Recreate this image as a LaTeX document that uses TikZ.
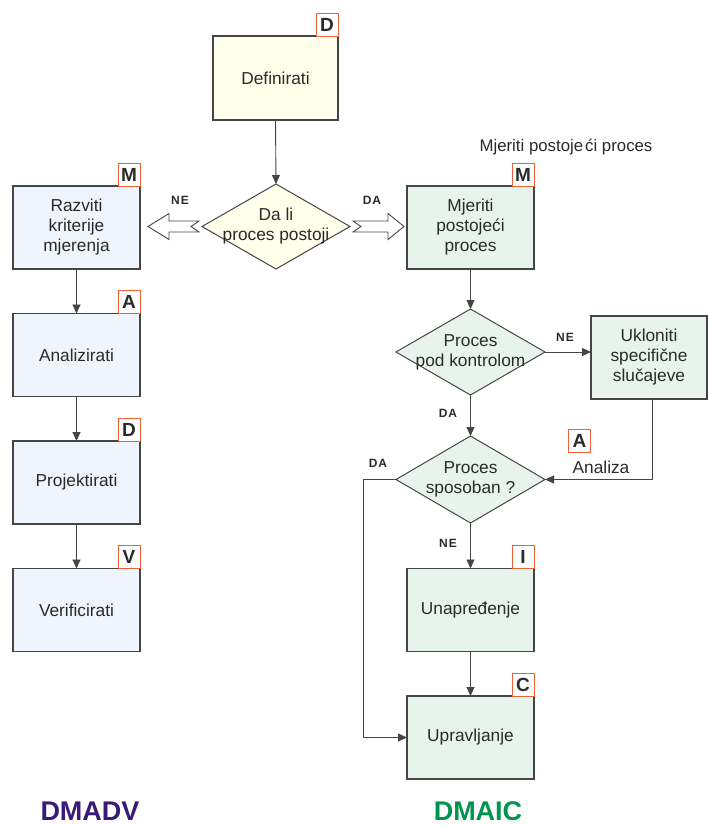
\documentclass[tikz,border=0pt]{standalone}
\usepackage{fontspec}
\setmainfont{Liberation Sans}
\usetikzlibrary{calc,arrows.meta,shapes.geometric}
\definecolor{linec}{HTML}{454545}
\definecolor{txtc}{HTML}{2A2A2A}
\definecolor{yelc}{HTML}{FFFFEB}
\definecolor{bluec}{HTML}{EEF5FC}
\definecolor{greenc}{HTML}{E7F4EC}
\definecolor{orangec}{HTML}{F0613A}
\definecolor{purplec}{HTML}{3A1A78}
\definecolor{dgreenc}{HTML}{00944F}
\begin{document}
\begin{tikzpicture}[x=1pt,y=-1pt,
  box/.style={rectangle, draw=linec, line width=1.1pt, minimum width=127pt, minimum height=83pt,
    inner sep=0pt, outer sep=0pt, align=center, text=txtc, font=\fontsize{17.3}{20}\selectfont},
  dia/.style={diamond, draw=linec, line width=1pt, inner sep=0pt, outer sep=0pt},
  dlab/.style={align=center, text=txtc, font=\fontsize{17.3}{20}\selectfont, inner sep=0pt},
  lbl/.style={rectangle, draw=orangec, fill=white, line width=1pt, minimum width=22pt, minimum height=23pt,
    inner sep=0pt, outer sep=0pt, text=txtc, font=\bfseries\fontsize{19}{19}\selectfont},
  yn/.style={text=txtc, inner sep=0pt, font=\bfseries\fontsize{12}{12}\selectfont\addfontfeature{LetterSpace=8}},
  conn/.style={draw=linec, line width=0.9pt},
  arr/.style={conn, -{Triangle[length=9pt,width=8pt]}},
  hollow/.style={draw=linec, fill=white, line width=0.9pt, line join=miter}]
\useasboundingbox (0,0) rectangle (708,825);

% top
\node[box, fill=yelc, minimum width=125pt, minimum height=84pt] (def) at (275.5,78) {Definirati};
\node[lbl, anchor=south east] (ldef) at (def.north east) {D};
\node[dia, fill=yelc, minimum width=148pt, minimum height=85pt,
  label={[dlab]center:Da li\\proces postoji}] (d1) at (276,226.5) {};
\draw[arr] (def.south) -- (d1.north);

% hollow arrows
\begin{scope}[shift={(d1.west)}]
\draw[hollow] (-3,-5.5) -- (-33,-5.5) -- (-33,-13) -- (-54,0) -- (-33,13) -- (-33,5.5) -- (-3,5.5) -- (-11,0) -- cycle;
\end{scope}
\begin{scope}[shift={(d1.east)}]
\draw[hollow] (3,-5.5) -- (38,-5.5) -- (38,-13) -- (54,0) -- (38,13) -- (38,5.5) -- (3,5.5) -- (11,0) -- cycle;
\end{scope}
\node[yn] (ne1) at (180,200) {NE};
\node[yn] (da1) at (372,200) {DA};

% left column DMADV
\node[box, fill=bluec] (raz) at (76.5,227.5) {Razviti\\kriterije\\mjerenja};
\node[lbl, anchor=south east] (lraz) at (raz.north east) {M};
\node[box, fill=bluec] (ana) at (76.5,355) {Analizirati};
\node[lbl, anchor=south east] (lana) at (ana.north east) {A};
\node[box, fill=bluec] (pro) at (76.5,482.5) {Projektirati};
\node[lbl, anchor=south east] (lpro) at (pro.north east) {D};
\node[box, fill=bluec] (ver) at (76.5,610) {Verificirati};
\node[lbl, anchor=south east] (lver) at (ver.north east) {V};
\draw[arr] (raz.south) -- (ana.north);
\draw[arr] (ana.south) -- (pro.north);
\draw[arr] (pro.south) -- (ver.north);

% right column DMAIC
\node[text=txtc, inner sep=0pt, font=\fontsize{16.8}{18}\selectfont] (mtop) at (566,147) {Mjeriti postoje\kern2ptći proces};
\node[box, fill=greenc] (mje) at (470.5,227.5) {Mjeriti\\postojeći\\proces};
\node[lbl, anchor=south east] (lmje) at (mje.north east) {M};

\node[dia, fill=greenc, minimum width=149pt, minimum height=86pt,
  label={[dlab]center:Proces\\pod kontrolom}] (d2) at (470.5,352) {};
\draw[arr] (mje.south) -- (d2.north);

\node[box, fill=greenc, minimum width=116pt] (ukl) at (649,357.5) {Ukloniti\\specifične\\slučajeve};
\draw[arr] (d2.east) -- (d2.east -| ukl.west);
\node[yn] (ne2) at (565,337) {NE};

\node[dia, fill=greenc, minimum width=149pt, minimum height=87pt,
  label={[dlab]center:Proces\\sposoban ?}] (d3) at (470.5,479.5) {};
\draw[arr] (d2.south) -- (d3.north);
\node[yn] (da2) at (448,413) {DA};
\draw[arr] ($(ukl.south)+(3,0)$) |- (d3.east);
\node[lbl] (lanaz) at (579.5,440.5) {A};
\node[text=txtc, inner sep=0pt, font=\fontsize{17.3}{20}\selectfont] (analiza) at (601,467) {Analiza};

\node[box, fill=greenc] (una) at (470.5,610) {Unapređenje};
\node[lbl, anchor=south east] (luna) at (una.north east) {I};
\draw[arr] (d3.south) -- (una.north);
\node[yn] (ne3) at (448,543) {NE};

\node[box, fill=greenc] (upr) at (470.5,737.5) {Upravljanje};
\node[lbl, anchor=south east] (lupr) at (upr.north east) {C};
\draw[arr] (una.south) -- (upr.north);
\coordinate (dleft) at ($(d3.west)+(-33,0)$);
\draw[arr] (d3.west) -- (dleft) |- (upr.west);
\node[yn] (da3) at (378,463) {DA};

% titles
\node[text=purplec, inner sep=0pt, font=\bfseries\fontsize{27}{27}\selectfont] (tdmadv) at (90,811) {DMADV};
\node[text=dgreenc, inner sep=0pt, font=\bfseries\fontsize{27}{27}\selectfont] (tdmaic) at (478,811) {DMAIC};
\end{tikzpicture}
\end{document}
